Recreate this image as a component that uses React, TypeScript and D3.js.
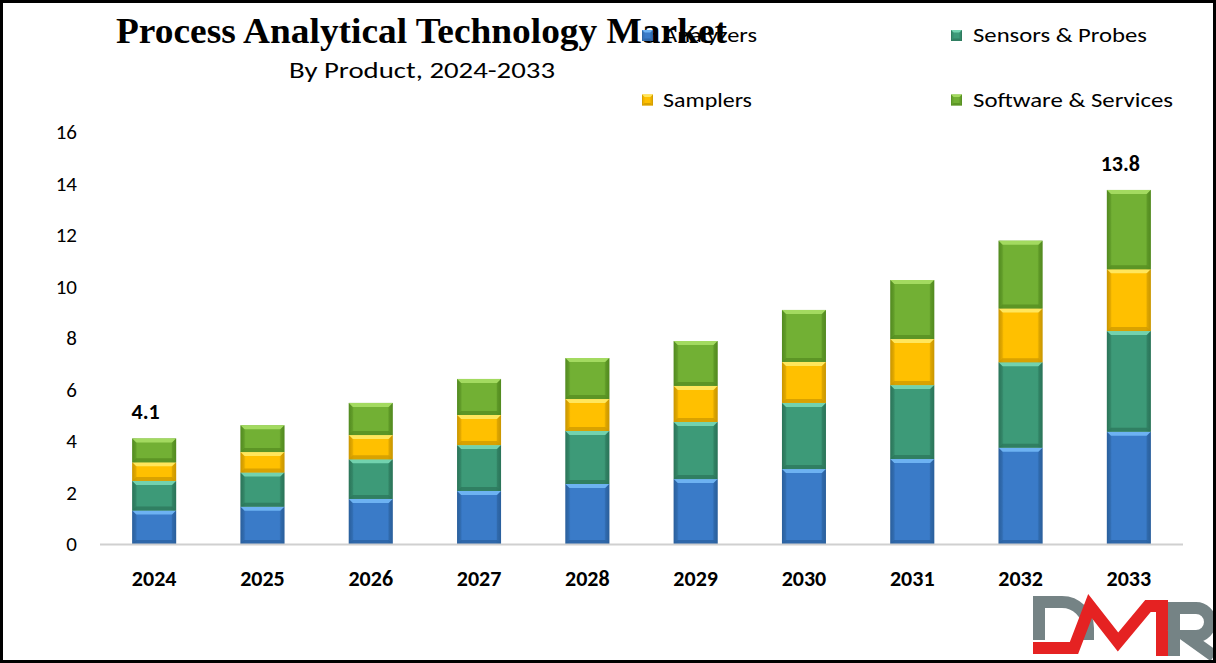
import React from "react";
import * as d3 from "d3";

const years = ["2024", "2025", "2026", "2027", "2028", "2029", "2030", "2031", "2032", "2033"];
const analyzers = [1.30, 1.45, 1.75, 2.06, 2.33, 2.52, 2.91, 3.30, 3.74, 4.36];
const sensors = [1.15, 1.33, 1.54, 1.78, 2.06, 2.22, 2.57, 2.87, 3.32, 3.91];
const samplers = [0.72, 0.79, 0.94, 1.17, 1.24, 1.40, 1.59, 1.79, 2.09, 2.40];
const software = [0.93, 1.04, 1.25, 1.40, 1.59, 1.74, 2.02, 2.29, 2.63, 3.08];
const seriesNames = ["Analyzers", "Sensors & Probes", "Samplers", "Software & Services"];
const yTicks = [0, 2, 4, 6, 8, 10, 12, 14, 16];
const totalLabels = [{ year: "2024", text: "4.1" }, { year: "2033", text: "13.8" }];

const W = 1216;
const H = 663;
const FONT = "Carlito, Calibri, Lato, sans-serif";

const palette = [
  { base: "#3a7bc8", light: "#6db2f2", dark: "#2a5f9c" },
  { base: "#3d9a78", light: "#72d2ae", dark: "#2b7458" },
  { base: "#ffc000", light: "#ffe65c", dark: "#c99600" },
  { base: "#72b034", light: "#a3da60", dark: "#528a20" },
];

function Bevel({ x, y, w, h, c, id, bv = 4 }: { x: number; y: number; w: number; h: number; c: any; id: number; bv?: number }) {
  const b = Math.min(bv, h / 2, w / 2);
  return (
    <g>
      <rect x={x} y={y} width={w} height={h} fill={`url(#grad${id})`} />
      <polygon points={`${x},${y} ${x + w},${y} ${x + w - b},${y + b} ${x + b},${y + b}`} fill={c.light} />
      <polygon points={`${x},${y + h} ${x + w},${y + h} ${x + w - b},${y + h - b} ${x + b},${y + h - b}`} fill={c.dark} opacity={0.7} />
      <polygon points={`${x},${y} ${x + b},${y + b} ${x + b},${y + h - b} ${x},${y + h}`} fill={c.dark} opacity={0.3} />
      <polygon points={`${x + w},${y} ${x + w - b},${y + b} ${x + w - b},${y + h - b} ${x + w},${y + h}`} fill={c.dark} opacity={0.45} />
    </g>
  );
}

export default function App() {
  const x = d3.scaleBand<string>().domain(years).range([100, 1183]).paddingInner(0.594).paddingOuter(0.297);
  const y = d3.scaleLinear().domain([0, 16]).range([544, 132]);

  const rows = years.map((yr, i) => ({
    year: yr,
    s0: analyzers[i],
    s1: sensors[i],
    s2: samplers[i],
    s3: software[i],
  }));
  const stack = d3.stack<any>().keys(["s0", "s1", "s2", "s3"]);
  const series = stack(rows);
  const totals = years.map((_, i) => analyzers[i] + sensors[i] + samplers[i] + software[i]);

  const legend = [
    { name: seriesNames[0], sx: 642, tx: 663, base: 42, len: 94, k: 0 },
    { name: seriesNames[1], sx: 951, tx: 973, base: 42, len: 174, k: 1 },
    { name: seriesNames[2], sx: 642, tx: 663, base: 106.5, len: 89, k: 2 },
    { name: seriesNames[3], sx: 951, tx: 973, base: 106.5, len: 200, k: 3 },
  ];

  return (
    <div style={{ position: "absolute", left: 0, top: 0 }}>
      <svg width={W} height={H} style={{ display: "block", background: "#fff" }}>
        <defs>
          {palette.map((c, i) => (
            <linearGradient key={i} id={`grad${i}`} x1="0" x2="1" y1="0" y2="0">
              <stop offset="0" stopColor={c.dark} />
              <stop offset="0.12" stopColor={c.base} />
              <stop offset="0.88" stopColor={c.base} />
              <stop offset="1" stopColor={c.dark} />
            </linearGradient>
          ))}
        </defs>

        {/* y tick labels */}
        {yTicks.map((t) => (
          <text key={t} x={77} y={y(t)} dy="0.35em" textAnchor="end" fontFamily={FONT} fontSize={21} fill="#000">
            {t}
          </text>
        ))}

        {/* bars */}
        {series.map((s, k) =>
          s.map((d: any, i: number) => {
            const x0 = x(years[i]) as number;
            const y1 = y(d[1]);
            const y0 = y(d[0]);
            return <Bevel key={`${k}-${i}`} x={x0} y={y1} w={x.bandwidth()} h={y0 - y1} c={palette[k]} id={k} />;
          })
        )}

        {/* axis line */}
        <line x1={100} x2={1183} y1={y(0) + 0.5} y2={y(0) + 0.5} stroke="#d0d0d0" strokeWidth={2} />

        {/* x labels */}
        {years.map((yr) => (
          <text key={yr} x={(x(yr) as number) + x.bandwidth() / 2} y={586} textAnchor="middle" fontFamily={FONT} fontWeight="bold" fontSize={22} fill="#000">
            {yr}
          </text>
        ))}

        {/* total labels */}
        {totalLabels.map((l) => {
          const i = years.indexOf(l.year);
          return (
            <text key={l.year} x={(x(l.year) as number) + x.bandwidth() / 2 - 8.5} y={y(totals[i]) - 19} textAnchor="middle" fontFamily={FONT} fontWeight="bold" fontSize={22} fill="#000">
              {l.text}
            </text>
          );
        })}

        {/* title */}
        <text x={116} y={43} fontFamily="'Liberation Serif', 'Times New Roman', serif" fontWeight="bold" fontSize={36} textLength={611} lengthAdjust="spacingAndGlyphs" fill="#000">
          Process Analytical Technology Market
        </text>
        <text x={289} y={78} fontFamily={FONT} fontSize={22} textLength={266} lengthAdjust="spacingAndGlyphs" fill="#000">
          By Product, 2024-2033
        </text>

        {/* legend */}
        {legend.map((l) => (
          <g key={l.name}>
            <Bevel x={l.sx} y={l.base - 12} w={11} h={11} c={palette[l.k]} id={l.k} bv={2.5} />
            <text x={l.tx} y={l.base} fontFamily={FONT} fontSize={21} textLength={l.len} lengthAdjust="spacingAndGlyphs" fill="#000">
              {l.name}
            </text>
          </g>
        ))}

        {/* DMR logo */}
        <g>
          <path d="M1033,602 H1062 A26,26 0 0 1 1088,628 V640" fill="none" stroke="#758385" strokeWidth={12} />
          <path d="M1039,602 V640" fill="none" stroke="#758385" strokeWidth={12} />
          <path d="M1033,648 H1074 L1090,606 L1118,642 L1148,606 L1162,606 V656" fill="none" stroke="#e52222" strokeWidth={12} strokeLinejoin="miter" />
          <path d="M1174,656 V608 H1196 A14,14 0 0 1 1196,636 H1186 L1214,656" fill="none" stroke="#758385" strokeWidth={12} />
        </g>

        {/* frame */}
        <rect x={1.5} y={1.5} width={W - 3} height={H - 3} fill="none" stroke="#000" strokeWidth={3} />
      </svg>
    </div>
  );
}
